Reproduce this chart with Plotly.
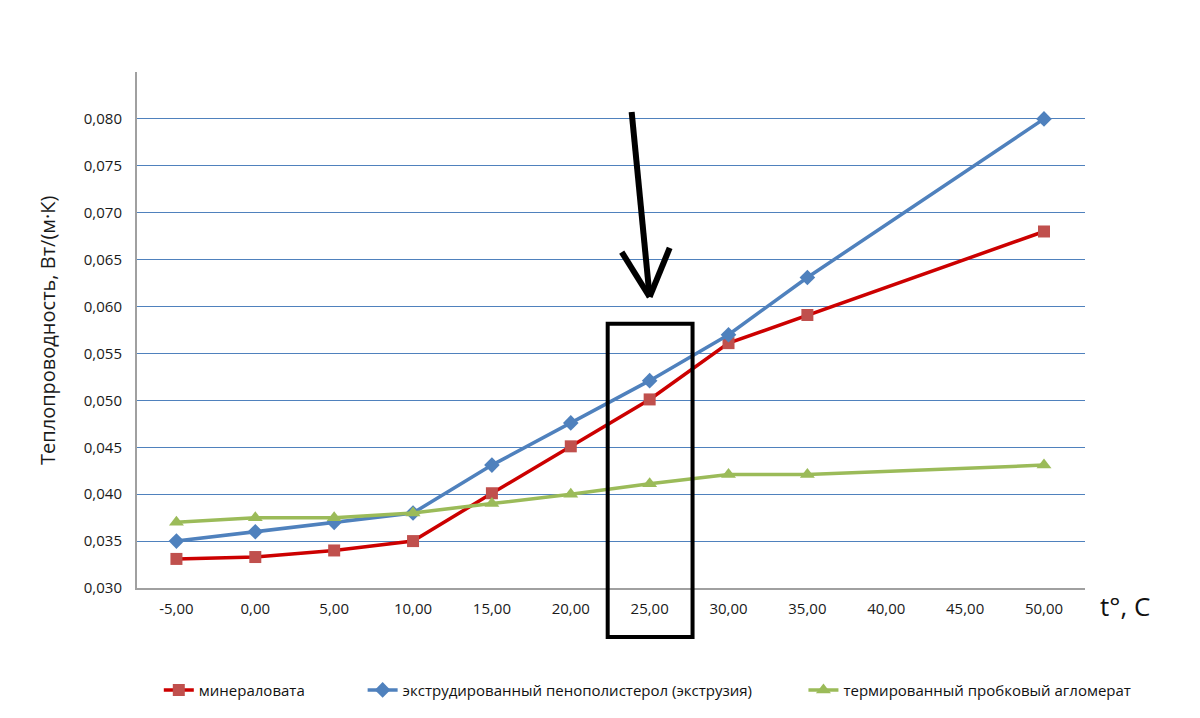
import plotly.graph_objects as go

x_vals = [-5, 0, 5, 10, 15, 20, 25, 30, 35, 50]
x_ticks = [-5, 0, 5, 10, 15, 20, 25, 30, 35, 40, 45, 50]
x_tick_text = ["-5,00", "0,00", "5,00", "10,00", "15,00", "20,00", "25,00", "30,00", "35,00", "40,00", "45,00", "50,00"]
y_ticks = [0.030, 0.035, 0.040, 0.045, 0.050, 0.055, 0.060, 0.065, 0.070, 0.075, 0.080]
y_tick_text = ["0,030", "0,035", "0,040", "0,045", "0,050", "0,055", "0,060", "0,065", "0,070", "0,075", "0,080"]

mineral_wool = [0.0331, 0.0333, 0.0340, 0.0350, 0.0401, 0.0451, 0.0501, 0.0561, 0.0591, 0.0680]
xps_foam = [0.0350, 0.0360, 0.0370, 0.0380, 0.0431, 0.0476, 0.0521, 0.0570, 0.0631, 0.0800]
cork = [0.0370, 0.0375, 0.0375, 0.0380, 0.0390, 0.0400, 0.0411, 0.0421, 0.0421, 0.0431]

names = ["минераловата", "экструдированный пенополистерол (экструзия)", "термированный пробковый агломерат"]

FONT = "Open Sans"

fig = go.Figure()
fig.add_trace(go.Scatter(x=x_vals, y=mineral_wool, name=names[0], mode="lines+markers",
                         line=dict(color="#cc0000", width=3.5),
                         marker=dict(symbol="square", size=12, color="#c0504d"),
                         legend="legend"))
fig.add_trace(go.Scatter(x=x_vals, y=xps_foam, name=names[1], mode="lines+markers",
                         line=dict(color="#4f81bd", width=3.5),
                         marker=dict(symbol="diamond", size=12, color="#4f81bd"),
                         legend="legend2"))
fig.add_trace(go.Scatter(x=x_vals, y=cork, name=names[2], mode="lines+markers",
                         line=dict(color="#9bbb59", width=3.5),
                         marker=dict(symbol="triangle-up", size=13, color="#9bbb59"),
                         legend="legend3"))

leg_common = dict(orientation="h", yanchor="middle", xanchor="left", y=-0.198,
                  font=dict(family=FONT, size=15, color="#111111"),
                  bgcolor="rgba(0,0,0,0)", itemwidth=30)

fig.update_layout(
    width=1200, height=718,
    showlegend=True,
    margin=dict(l=129, r=123, t=64, b=138),
    paper_bgcolor="white", plot_bgcolor="white",
    font=dict(family=FONT, color="#1a1a1a"),
    legend=dict(leg_common, x=0.023),
    legend2=dict(leg_common, x=0.238),
    legend3=dict(leg_common, x=0.703),
    xaxis=dict(range=[-7.5, 52.6], tickvals=x_ticks, ticktext=x_tick_text,
               showgrid=False, zeroline=False, showline=True, linecolor="#a0a0a0",
               linewidth=2, ticks="", ticklabelstandoff=6,
               tickfont=dict(family=FONT, size=15, color="#1a1a1a")),
    yaxis=dict(range=[0.030, 0.085], tickvals=y_ticks, ticktext=y_tick_text,
               showgrid=True, gridcolor="#4f81bd", gridwidth=1, zeroline=False,
               showline=True, linecolor="#a0a0a0", linewidth=2, ticks="",
               ticklabelstandoff=10,
               tickfont=dict(family=FONT, size=15, color="#1a1a1a")),
    annotations=[
        dict(text="Теплопроводность, Вт/(м·К)", xref="paper", yref="paper",
             x=-0.095, y=0.5, xanchor="center", yanchor="middle", textangle=-90,
             showarrow=False, font=dict(family=FONT, size=20, color="#1a1a1a")),
        dict(text="t°, С", xref="paper", yref="paper", x=1.0137, y=-0.035,
             xanchor="left", yanchor="middle", showarrow=False,
             font=dict(family=FONT, size=26, color="#111111")),
    ],
    shapes=[
        dict(type="rect", xref="x", yref="paper", x0=22.34, x1=27.72, y0=-0.095, y1=0.512,
             line=dict(color="black", width=4)),
        dict(type="line", xref="x", yref="paper", x0=23.86, y0=0.9225, x1=25.0, y1=0.564,
             line=dict(color="black", width=6)),
        dict(type="line", xref="x", yref="paper", x0=23.23, y0=0.651, x1=25.0, y1=0.564,
             line=dict(color="black", width=6)),
        dict(type="line", xref="x", yref="paper", x0=26.27, y0=0.659, x1=25.0, y1=0.564,
             line=dict(color="black", width=6)),
    ],
)

fig.write_html("out.html")
